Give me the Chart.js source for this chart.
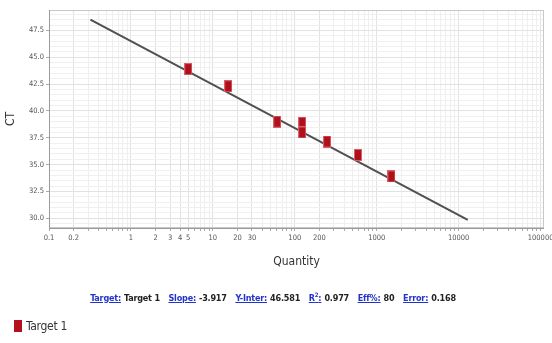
<!DOCTYPE html>
<html>
<head>
<meta charset="utf-8">
<script src="https://cdn.jsdelivr.net/npm/chart.js@4/dist/chart.umd.min.js"></script>
<style>
  body { margin: 0; background: #fff; }
  #wrap { position: relative; width: 552px; height: 343px; }
  #stats {
    position: absolute; left: 0; top: 291px; width: 552px; text-align: center;
    font: bold 9px "DejaVu Sans Condensed", "Liberation Sans", sans-serif; color: #222;
    letter-spacing: -0.2px;
  }
  #stats a { color: #2233cc; text-decoration: underline; margin-right: 3px; }
  #stats span { margin-right: 6px; }
  #legend {
    position: absolute; left: 14px; top: 319px;
    font: 12px "DejaVu Sans Condensed", "Liberation Sans", sans-serif; color: #333;
    letter-spacing: -0.3px;
  }
  #legend i { display: inline-block; width: 8px; height: 12px; background: #b3121c; vertical-align: -2px; margin-right: 4px; }
</style>
</head>
<body>
<div id="wrap">
  <canvas id="chart" width="552" height="343"></canvas>
  <div id="stats">
    <a>Target:</a><span>Target 1</span>
    <a>Slope:</a><span>-3.917</span>
    <a>Y-Inter:</a><span>46.581</span>
    <a>R<sup style="font-size:6px">2</sup>:</a><span>0.977</span>
    <a>Eff%:</a><span>80</span>
    <a>Error:</a><span>0.168</span>
  </div>
  <div id="legend"><i></i>Target 1</div>
</div>
<script>
// standard curve points
const quantities = [5, 15.4, 61, 123, 123, 248, 590, 1510];
const ctValues = [43.9, 42.3, 39.0, 38.9, 38.0, 37.15, 35.9, 33.9];
// fitted line end points
const fitX = [0.32, 12900];
const fitY = [48.5, 29.85];

const xTickLabels = [0.1, 0.2, 1, 2, 3, 4, 5, 10, 20, 30, 100, 200, 1000, 10000, 100000];
const yTickLabels = [30, 32.5, 35, 37.5, 40, 42.5, 45, 47.5];

const markerImg = document.createElement("canvas");
markerImg.width = 8; markerImg.height = 12;
const mctx = markerImg.getContext("2d");
mctx.fillStyle = "#d9606a";
mctx.fillRect(0, 0, 8, 12);
mctx.fillStyle = "#b0101b";
mctx.fillRect(1, 1, 6, 10);

const narrow = "'DejaVu Sans Condensed', 'Liberation Sans', sans-serif";
const tickFont = { family: narrow, size: 7.5 };

const borderBox = {
  id: "borderBox",
  afterDraw(chart) {
    const a = chart.chartArea, ctx = chart.ctx;
    ctx.save();
    ctx.strokeStyle = "#c8c8c8";
    ctx.lineWidth = 1;
    ctx.strokeRect(a.left + 0.5, a.top + 0.5, a.right - a.left - 1, a.bottom - a.top - 1);
    ctx.strokeStyle = "#9a9a9a";
    ctx.beginPath();
    ctx.moveTo(a.left + 0.5, a.top);
    ctx.lineTo(a.left + 0.5, a.bottom + 0.5);
    ctx.lineTo(a.right, a.bottom + 0.5);
    ctx.stroke();
    ctx.restore();
  }
};

new Chart(document.getElementById("chart"), {
  type: "scatter",
  data: {
    datasets: [
      {
        label: "Target 1",
        data: quantities.map((q, i) => ({ x: q, y: ctValues[i] })),
        pointStyle: markerImg,
        order: 0
      },
      {
        type: "line",
        label: "fit",
        data: fitX.map((x, i) => ({ x: x, y: fitY[i] })),
        borderColor: "#505050",
        borderWidth: 2,
        pointRadius: 0,
        order: 1
      }
    ]
  },
  options: {
    responsive: false,
    animation: false,
    layout: { padding: { left: 0, top: 10, right: 8, bottom: 70 } },
    plugins: { legend: { display: false }, tooltip: { enabled: false } },
    scales: {
      x: {
        type: "logarithmic",
        min: 0.1,
        max: 110000,
        afterBuildTicks(scale) {
          const t = [];
          for (let e = -1; e <= 4; e++) {
            for (let m = 1; m <= 9; m++) t.push({ value: +(m * Math.pow(10, e)).toPrecision(3) });
          }
          t.push({ value: 100000 });
          scale.ticks = t;
        },
        afterFit(scale) {
          scale.height = 45;
          scale.paddingLeft = 0;
          scale.paddingRight = 0;
        },
        ticks: {
          autoSkip: false, maxRotation: 0, color: "#555", font: tickFont, padding: 3,
          callback(v) { return xTickLabels.includes(v) ? String(v) : ""; }
        },
        grid: {
          color: (c) => xTickLabels.includes(c.tick && c.tick.value) || (c.tick && Number.isInteger(Math.log10(c.tick.value))) ? "#e2e2e2" : "#efefef",
          tickLength: 3,
          tickColor: "#aaa"
        },
        border: { display: false },
        title: { display: true, text: "Quantity", color: "#333", font: { family: narrow, size: 12 }, padding: { top: 4 } }
      },
      y: {
        min: 29.1,
        max: 49.4,
        afterBuildTicks(scale) {
          const t = [];
          for (let v = 29.5; v <= 49; v += 0.5) t.push({ value: v });
          scale.ticks = t;
        },
        afterFit(scale) { scale.width = 49; },
        ticks: {
          autoSkip: false, color: "#555", font: tickFont, padding: 2,
          callback(v) { return yTickLabels.includes(v) ? v.toFixed(1) : ""; }
        },
        grid: {
          color: (c) => yTickLabels.includes(c.tick && c.tick.value) ? "#e2e2e2" : "#f0f0f0",
          tickLength: 3,
          tickColor: (c) => yTickLabels.includes(c.tick && c.tick.value) ? "#aaa" : "rgba(0,0,0,0)"
        },
        border: { display: false },
        title: { display: true, text: "CT", color: "#333", font: { family: narrow, size: 12 }, padding: { bottom: 2 } }
      }
    }
  },
  plugins: [borderBox]
});
</script>
</body>
</html>
